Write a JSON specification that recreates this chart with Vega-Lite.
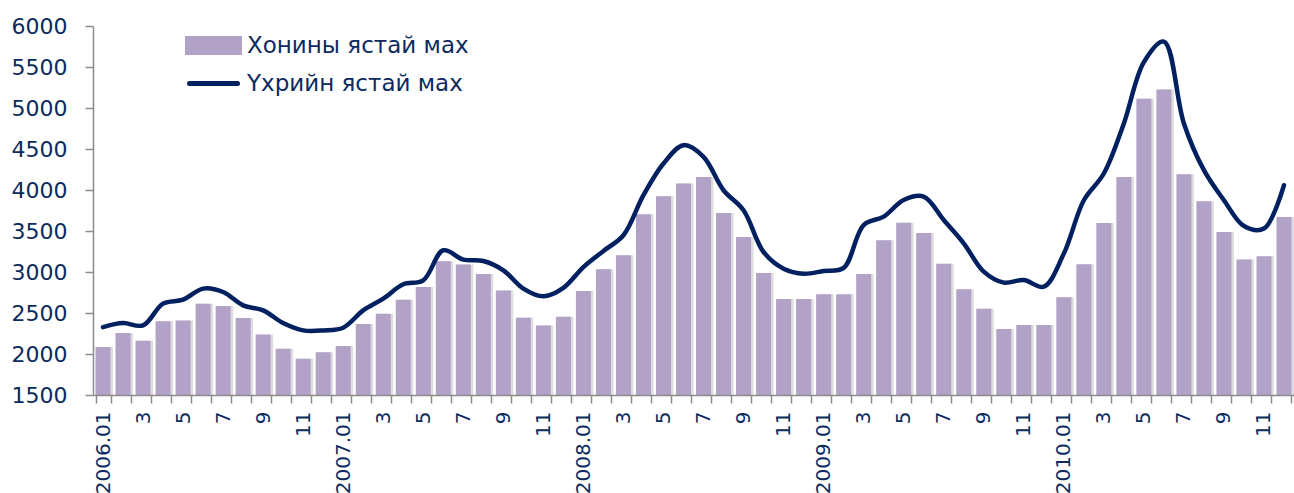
{
  "$schema": "https://vega.github.io/schema/vega-lite/v6.json",
  "autosize": {"type": "none"},
  "padding": {"left": 93, "top": 26, "right": 0, "bottom": 98},
  "width": 1201,
  "height": 369,
  "background": "white",
  "config": {"view": {"stroke": null}, "font": "DejaVu Sans"},
  "data": {"values": [
    {"month": "2006.01", "sheep": 2085, "beef": 2328},
    {"month": "2006.02", "sheep": 2255, "beef": 2377},
    {"month": "2006.03", "sheep": 2162, "beef": 2349},
    {"month": "2006.04", "sheep": 2398, "beef": 2614},
    {"month": "2006.05", "sheep": 2410, "beef": 2663},
    {"month": "2006.06", "sheep": 2614, "beef": 2797},
    {"month": "2006.07", "sheep": 2585, "beef": 2756},
    {"month": "2006.08", "sheep": 2438, "beef": 2593},
    {"month": "2006.09", "sheep": 2239, "beef": 2532},
    {"month": "2006.10", "sheep": 2064, "beef": 2377},
    {"month": "2006.11", "sheep": 1942, "beef": 2288},
    {"month": "2006.12", "sheep": 2020, "beef": 2288},
    {"month": "2007.01", "sheep": 2097, "beef": 2321},
    {"month": "2007.02", "sheep": 2365, "beef": 2532},
    {"month": "2007.03", "sheep": 2492, "beef": 2675},
    {"month": "2007.04", "sheep": 2663, "beef": 2850},
    {"month": "2007.05", "sheep": 2817, "beef": 2899},
    {"month": "2007.06", "sheep": 3131, "beef": 3265},
    {"month": "2007.07", "sheep": 3090, "beef": 3151},
    {"month": "2007.08", "sheep": 2976, "beef": 3134},
    {"month": "2007.09", "sheep": 2773, "beef": 3021},
    {"month": "2007.10", "sheep": 2443, "beef": 2797},
    {"month": "2007.11", "sheep": 2349, "beef": 2703},
    {"month": "2007.12", "sheep": 2455, "beef": 2807},
    {"month": "2008.01", "sheep": 2768, "beef": 3060},
    {"month": "2008.02", "sheep": 3033, "beef": 3257},
    {"month": "2008.03", "sheep": 3204, "beef": 3448},
    {"month": "2008.04", "sheep": 3704, "beef": 3937},
    {"month": "2008.05", "sheep": 3924, "beef": 4323},
    {"month": "2008.06", "sheep": 4079, "beef": 4547},
    {"month": "2008.07", "sheep": 4160, "beef": 4404},
    {"month": "2008.08", "sheep": 3721, "beef": 3997},
    {"month": "2008.09", "sheep": 3428, "beef": 3753},
    {"month": "2008.10", "sheep": 2988, "beef": 3244},
    {"month": "2008.11", "sheep": 2670, "beef": 3041},
    {"month": "2008.12", "sheep": 2670, "beef": 2980},
    {"month": "2009.01", "sheep": 2728, "beef": 3012},
    {"month": "2009.02", "sheep": 2728, "beef": 3050},
    {"month": "2009.03", "sheep": 2976, "beef": 3573},
    {"month": "2009.04", "sheep": 3386, "beef": 3675},
    {"month": "2009.05", "sheep": 3602, "beef": 3878},
    {"month": "2009.06", "sheep": 3476, "beef": 3919},
    {"month": "2009.07", "sheep": 3102, "beef": 3634},
    {"month": "2009.08", "sheep": 2789, "beef": 3350},
    {"month": "2009.09", "sheep": 2553, "beef": 3004},
    {"month": "2009.10", "sheep": 2305, "beef": 2870},
    {"month": "2009.11", "sheep": 2354, "beef": 2902},
    {"month": "2009.12", "sheep": 2354, "beef": 2821},
    {"month": "2010.01", "sheep": 2691, "beef": 3224},
    {"month": "2010.02", "sheep": 3094, "beef": 3875},
    {"month": "2010.03", "sheep": 3598, "beef": 4201},
    {"month": "2010.04", "sheep": 4160, "beef": 4812},
    {"month": "2010.05", "sheep": 5112, "beef": 5560},
    {"month": "2010.06", "sheep": 5227, "beef": 5810},
    {"month": "2010.07", "sheep": 4193, "beef": 4812},
    {"month": "2010.08", "sheep": 3863, "beef": 4242},
    {"month": "2010.09", "sheep": 3489, "beef": 3875},
    {"month": "2010.10", "sheep": 3151, "beef": 3560},
    {"month": "2010.11", "sheep": 3192, "beef": 3530},
    {"month": "2010.12", "sheep": 3672, "beef": 4058}
  ]},
  "encoding": {
    "x": {
      "field": "month", "type": "ordinal", "sort": null,
      "scale": {"paddingInner": 0.25, "paddingOuter": 0.125},
      "axis": {
        "title": null,
        "labelAngle": -90,
        "labelFont": "DejaVu Sans",
        "labelFontSize": 20,
        "labelColor": "#0B2A5E",
        "labelPadding": 8,
        "labelOverlap": false,
        "labelBound": false,
        "labelFlush": false,
        "labelLimit": 0,
        "labelExpr": "substring(datum.value,5,7) == '01' ? datum.value : (toNumber(substring(datum.value,5,7)) % 2 == 1 ? '' + toNumber(substring(datum.value,5,7)) : '')",
        "tickBand": "extent",
        "tickSize": 8,
        "tickColor": "#8C8C8C",
        "tickWidth": 1.5,
        "domainColor": "#8C8C8C",
        "domainWidth": 1.5,
        "grid": false,
        "zindex": 1
      }
    }
  },
  "layer": [
    {
      "mark": {"type": "bar", "color": "#CFCFCF", "opacity": 0.7, "xOffset": 2.5, "clip": true},
      "encoding": {
        "y": {"field": "sheep", "type": "quantitative", "scale": {"domain": [1500, 6000], "zero": false, "nice": false}}
      }
    },
    {
      "mark": {"type": "bar", "clip": true},
      "encoding": {
        "y": {
          "field": "sheep", "type": "quantitative",
          "scale": {"domain": [1500, 6000], "zero": false, "nice": false},
          "axis": {
            "title": null,
            "tickCount": 9,
            "format": "d",
            "labelFont": "DejaVu Sans",
            "labelFontSize": 22,
            "labelColor": "#0B2A5E",
            "labelPadding": 18,
            "tickSize": 8,
            "tickColor": "#8C8C8C",
            "tickWidth": 1.5,
            "domainColor": "#8C8C8C",
            "domainWidth": 1.5,
            "grid": false,
            "zindex": 1
          }
        },
        "color": {
          "datum": "Хонины ястай мах",
          "scale": {"domain": ["Хонины ястай мах", "Үхрийн ястай мах"], "range": ["#B3A2C7", "#002060"]},
          "legend": {
            "orient": "none",
            "legendX": 108,
            "legendY": 7,
            "title": null,
            "padding": 0,
            "symbolSize": 400,
            "labelFont": "DejaVu Sans",
            "labelFontSize": 23,
            "labelColor": "#0B2A5E",
            "labelLimit": 0,
            "labelOffset": 21,
            "rowPadding": 8,
            "encode": {
              "symbols": {
                "update": {
                  "shape": {"signal": "datum.value === 'Хонины ястай мах' ? 'M-2.6,-0.7H2.6V0.7H-2.6Z' : 'M-2.4,0H2.4'"},
                  "fill": {"signal": "datum.value === 'Хонины ястай мах' ? '#B3A2C7' : 'transparent'"},
                  "stroke": {"signal": "datum.value === 'Хонины ястай мах' ? 'transparent' : '#002060'"},
                  "strokeWidth": {"value": 5},
                  "strokeCap": {"value": "round"},
                  "opacity": {"value": 1}
                }
              }
            }
          }
        }
      }
    },
    {
      "mark": {"type": "line", "interpolate": "catmull-rom", "strokeWidth": 4.5, "strokeCap": "round"},
      "encoding": {
        "y": {"field": "beef", "type": "quantitative"},
        "color": {"datum": "Үхрийн ястай мах"}
      }
    }
  ]
}
